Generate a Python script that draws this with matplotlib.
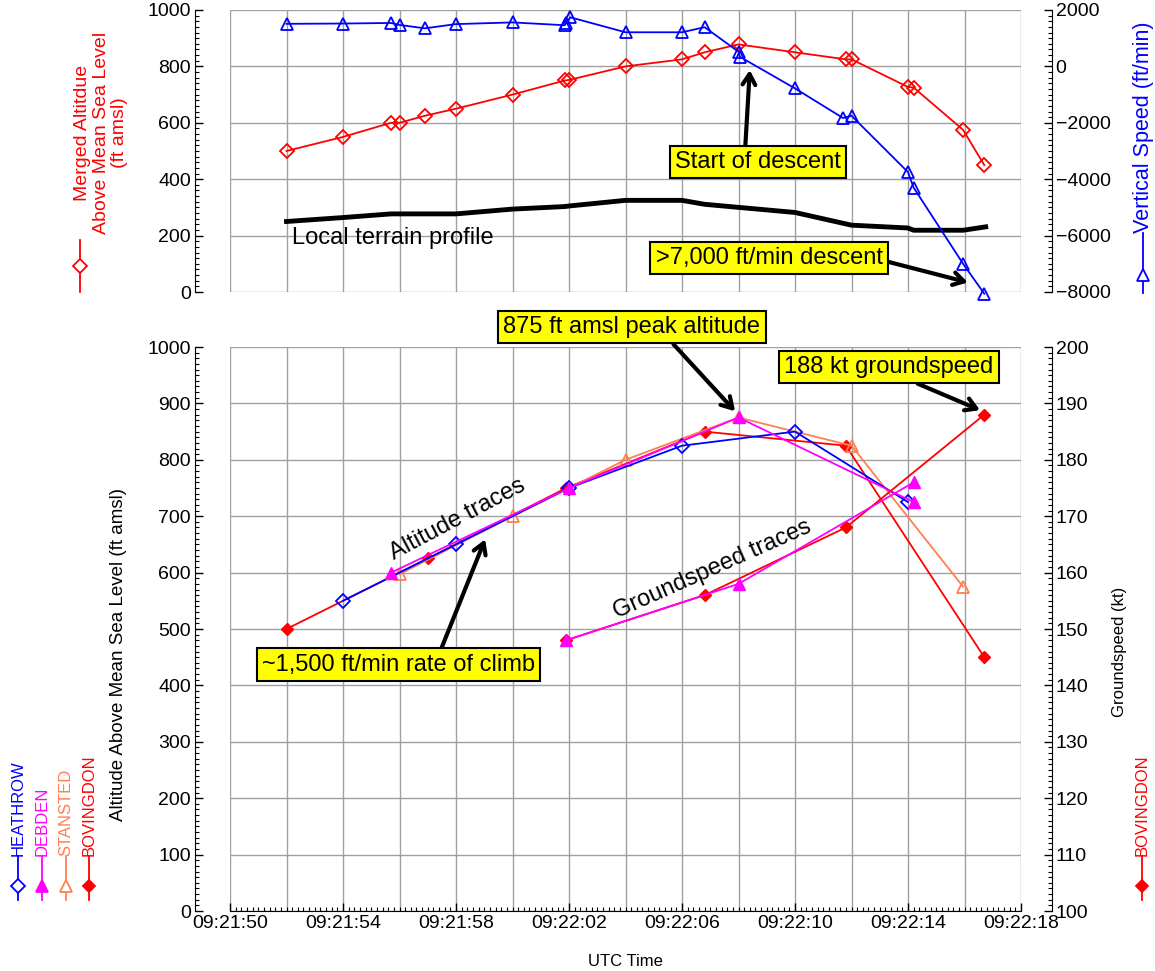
import numpy as np
import matplotlib
matplotlib.use('Agg')
import matplotlib.pyplot as plt
from matplotlib.lines import Line2D
from matplotlib.ticker import MultipleLocator, FuncFormatter

plt.rcParams['font.family'] = ['Liberation Sans', 'DejaVu Sans']

# ── Data (seconds after 09:21:00) ────────────────────────────────────────────
# Top panel: merged altitude, vertical speed, terrain
t_merged   = [52, 54, 55.7, 56.0, 56.9, 58, 60, 61.85, 62.0, 64, 66, 66.8, 68,
              70, 71.8, 72, 74, 74.2, 75.95, 76.7]
alt_merged = [500, 550, 600, 600, 625, 650, 700, 750, 752, 800, 825, 850, 878,
              850, 825, 825, 727, 725, 575, 450]

t_vs = [52, 54, 55.7, 56.0, 56.9, 58, 60, 61.85, 61.9, 62.05, 64, 66, 66.8,
        68, 68.05, 70, 71.7, 72, 74, 74.2, 75.95, 76.7]
vs   = [1510, 1520, 1540, 1470, 1350, 1500, 1560, 1460, 1550, 1740, 1210, 1210,
        1390, 520, 340, -780, -1830, -1750, -3750, -4300, -7000, -8060]

t_terrain = [52, 54, 55.7, 58, 60, 61.85, 62, 64, 66, 66.8, 70, 72, 74, 74.2,
             75.95, 76.75]
terrain   = [250, 264, 277, 277, 294, 303, 305, 325, 325, 311, 282, 237, 227,
             219, 219, 231]

# Bottom panel: altitude per radar
t_heathrow   = [54, 58, 62, 66, 70, 74]
alt_heathrow = [550, 650, 750, 825, 850, 725]
t_debden     = [55.7, 62, 68, 74.2]
alt_debden   = [600, 750, 875, 725]
t_stansted   = [56, 60, 64, 68, 72, 75.95]
alt_stansted = [597, 700, 800, 875, 825, 575]
t_bov        = [52, 57, 61.9, 66.8, 71.8, 76.7]
alt_bov      = [500, 625, 750, 850, 825, 450]

# Bottom panel: groundspeed
t_gs_bov    = [61.9, 66.8, 71.8, 76.7]
gs_bov      = [148, 156, 168, 188]
t_gs_debden = [61.9, 68, 74.2]
gs_debden   = [148, 158, 176]

xticks = [50, 54, 58, 62, 66, 70, 74, 78]

RED, BLUE, MAG, CORAL = '#ff0000', '#0000ff', '#ff00ff', '#ff7f50'
GRID = '#a0a0a0'
W, H = 1155, 971
NOTE = 17  # annotation font size


def fmt_time(v, pos=None):
    m = 21 + int(v) // 60
    s = int(round(v)) % 60
    return f'09:{m:02d}:{s:02d}'


def grid_box(ax, ystep, ymax):
    for v in np.arange(50, 78.1, 2):
        ax.axvline(v, color=GRID, lw=1, zorder=0)
    for v in np.arange(0, ymax + 0.1, ystep):
        ax.axhline(v, color=GRID, lw=1, zorder=0)


def style_axes(ax, tw, show_bottom):
    for s in ['top', 'right']:
        ax.spines[s].set_visible(False)
    ax.spines['bottom'].set_visible(show_bottom)
    ax.spines['left'].set_position(('outward', 25))
    for s in ['top', 'bottom', 'left']:
        tw.spines[s].set_visible(False)
    tw.spines['right'].set_position(('outward', 22))
    for a in (ax, tw):
        a.tick_params(which='major', direction='in', length=6, width=1, labelsize=14, pad=3)
        a.tick_params(which='minor', direction='in', length=3, width=0.8)


fig = plt.figure(figsize=(W / 100, H / 100), dpi=100)
ax1 = fig.add_axes([230 / W, 1 - 292 / H, 791 / W, 282 / H])
ax2 = fig.add_axes([230 / W, 1 - 911 / H, 791 / W, 564 / H])

# ══ Top panel ════════════════════════════════════════════════════════════════
tw1 = ax1.twinx()
ax1.set_xlim(50, 78)
ax1.set_ylim(0, 1000)
tw1.set_ylim(-8000, 2000)
grid_box(ax1, 200, 1000)
ax1.plot(t_terrain, terrain, color='black', lw=3.5, zorder=3)
ax1.plot(t_merged, alt_merged, color=RED, lw=1.3, marker='D', ms=7,
         mfc='none', mec=RED, mew=1.3, zorder=4, clip_on=False)
tw1.plot(t_vs, vs, color=BLUE, lw=1.3, marker='^', ms=9,
         mfc='none', mec=BLUE, mew=1.3, zorder=4, clip_on=False)
style_axes(ax1, tw1, False)
ax1.set_xticks([])
ax1.set_yticks(np.arange(0, 1001, 200))
ax1.yaxis.set_minor_locator(MultipleLocator(20))
tw1.set_yticks(np.arange(-8000, 2001, 2000))
tw1.yaxis.set_minor_locator(MultipleLocator(200))

box = dict(boxstyle='square,pad=0.22', fc='yellow', ec='black', lw=1.5)
arrow = dict(arrowstyle='->,head_length=0.45,head_width=0.27', lw=3, color='black',
             shrinkA=0, shrinkB=0)

ax1.text(52.2, 190, 'Local terrain profile', fontsize=NOTE, ha='left', va='center')
ax1.annotate('Start of descent', xy=(68.4, 787), xytext=(68.7, 460), fontsize=NOTE,
             ha='center', va='center', bbox=box,
             arrowprops=dict(arrow, relpos=(0.42, 1.0)), zorder=6)
ax1.annotate('>7,000 ft/min descent', xy=(76.12, 34), xytext=(69.08, 120), fontsize=NOTE,
             ha='center', va='center', bbox=box,
             arrowprops=dict(arrow, relpos=(1.0, 0.4)), zorder=6)

# ══ Bottom panel ═════════════════════════════════════════════════════════════
tw2 = ax2.twinx()
ax2.set_xlim(50, 78)
ax2.set_ylim(0, 1000)
tw2.set_ylim(100, 200)
grid_box(ax2, 100, 1000)
ax2.plot(t_bov, alt_bov, color=RED, lw=1.3, marker='D', ms=6, mfc=RED, mec=RED, zorder=4)
ax2.plot(t_stansted, alt_stansted, color=CORAL, lw=1.3, marker='^', ms=9,
         mfc='none', mec=CORAL, mew=1.3, zorder=4)
ax2.plot(t_heathrow, alt_heathrow, color=BLUE, lw=1.3, marker='D', ms=7,
         mfc='none', mec=BLUE, mew=1.3, zorder=4)
ax2.plot(t_debden, alt_debden, color=MAG, lw=1.3, marker='^', ms=8, mfc=MAG, mec=MAG, zorder=4)
tw2.plot(t_gs_bov, gs_bov, color=RED, lw=1.3, marker='D', ms=6, mfc=RED, mec=RED, zorder=4)
tw2.plot(t_gs_debden, gs_debden, color=MAG, lw=1.3, marker='^', ms=8, mfc=MAG, mec=MAG, zorder=4)
style_axes(ax2, tw2, True)
ax2.spines['bottom'].set_color('black')
ax2.set_xticks(xticks)
ax2.xaxis.set_major_formatter(FuncFormatter(fmt_time))
ax2.xaxis.set_minor_locator(MultipleLocator(0.2))
ax2.set_yticks(np.arange(0, 1001, 100))
ax2.yaxis.set_minor_locator(MultipleLocator(10))
tw2.set_yticks(np.arange(100, 201, 10))
tw2.yaxis.set_minor_locator(MultipleLocator(1))

ax2.set_ylabel('Altitude Above Mean Sea Level (ft amsl)', fontsize=13.5)
ax2.yaxis.set_label_coords(-0.13, 0.455)
tw2.set_ylabel('Groundspeed (kt)', fontsize=12)
tw2.yaxis.set_label_coords(1.115, 0.46)
ax2.set_xlabel('UTC Time', fontsize=12)
ax2.xaxis.set_label_coords(0.5, -0.076)

ax2.text(58.04, 694, 'Altitude traces', fontsize=NOTE, rotation=28,
         ha='center', va='center', zorder=6)
ax2.text(67.06, 605, 'Groundspeed traces', fontsize=NOTE, rotation=24,
         ha='center', va='center', zorder=6)
ax2.annotate('875 ft amsl peak altitude', xy=(67.88, 886), xytext=(64.23, 1035),
             fontsize=NOTE, ha='center', va='center', bbox=box, annotation_clip=False,
             arrowprops=dict(arrow, relpos=(0.64, 0.0)), zorder=6)
ax2.annotate('188 kt groundspeed', xy=(76.55, 888), xytext=(73.33, 965),
             fontsize=NOTE, ha='center', va='center', bbox=box,
             arrowprops=dict(arrow, relpos=(0.57, 0.0)), zorder=6)
ax2.annotate('~1,500 ft/min rate of climb', xy=(59.03, 659), xytext=(55.96, 437),
             fontsize=NOTE, ha='center', va='center', bbox=box,
             arrowprops=dict(arrow, relpos=(0.65, 1.0)), zorder=6)


# ── Side legends (IDL style, rotated) ────────────────────────────────────────
def legend_key(x, y0, y1, ym, color, marker, ms, filled):
    fig.add_artist(Line2D([x / W, x / W], [1 - y0 / H, 1 - y1 / H],
                          transform=fig.transFigure, color=color, lw=1.3))
    fig.add_artist(Line2D([x / W], [1 - ym / H], transform=fig.transFigure,
                          marker=marker, ms=ms, color=color,
                          mfc=color if filled else 'white', mec=color, mew=1.3))


fig.text(101 / W, 1 - 133 / H, 'Merged Altitdue\nAbove Mean Sea Level\n(ft amsl)',
         color=RED, fontsize=14, rotation=90, ha='center', va='center',
         multialignment='center', linespacing=1.1)
legend_key(80, 240, 292, 266, RED, 'D', 7, False)

fig.text(1143 / W, 1 - 233 / H, 'Vertical Speed (ft/min)', color=BLUE, fontsize=15.5,
         rotation=90, ha='center', va='bottom')
legend_key(1143, 233, 293, 275, BLUE, '^', 9, False)

for x, name, color, marker, ms, filled in [
        (18, 'HEATHROW', BLUE, 'D', 7, False),
        (42, 'DEBDEN', MAG, '^', 8, True),
        (66, 'STANSTED', CORAL, '^', 9, False),
        (89, 'BOVINGDON', RED, 'D', 6, True),
        (1142, 'BOVINGDON', RED, 'D', 6, True)]:
    fig.text(x / W, 1 - 856 / H, name, color=color, fontsize=12, rotation=90,
             ha='center', va='bottom')
    legend_key(x, 856, 900, 886, color, marker, ms, filled)

fig.savefig('out.png', dpi=100)
